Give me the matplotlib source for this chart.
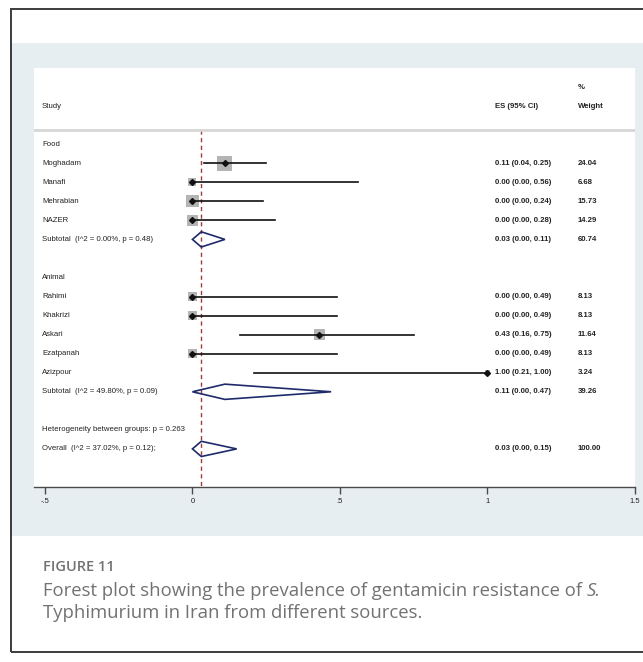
import numpy as np
import matplotlib
matplotlib.use("Agg")
from matplotlib import pyplot as plt
from matplotlib.patches import Rectangle, Polygon

# datos del forest plot
grupos = ["Food", "Animal"]
estudios = [["Moghadam", "Manafi", "Mehrabian", "NAZER"],
            ["Rahimi", "Khakrizi", "Askari", "Ezatpanah", "Azizpour"]]
es = [[0.11, 0.00, 0.00, 0.00], [0.00, 0.00, 0.43, 0.00, 1.00]]
ci_lo = [[0.04, 0.00, 0.00, 0.00], [0.00, 0.00, 0.16, 0.00, 0.21]]
ci_hi = [[0.25, 0.56, 0.24, 0.28], [0.49, 0.49, 0.75, 0.49, 1.00]]
pesos = [[24.04, 6.68, 15.73, 14.29], [8.13, 8.13, 11.64, 8.13, 3.24]]
sub_txt = ["Subtotal  (I^2 = 0.00%, p = 0.48)", "Subtotal  (I^2 = 49.80%, p = 0.09)"]
sub_es = [0.03, 0.11]
sub_lo = [0.00, 0.00]
sub_hi = [0.11, 0.47]
sub_peso = [60.74, 39.26]
het_txt = "Heterogeneity between groups: p = 0.263"
overall_txt = "Overall  (I^2 = 37.02%, p = 0.12);"
overall = (0.03, 0.00, 0.15, 100.00)
xticks = [-0.5, 0, 0.5, 1, 1.5]
xticklabels = ["-.5", "0", ".5", "1", "1.5"]

W, H = 643, 662
fig = plt.figure(figsize=(W / 100, H / 100), dpi=100)
fig.patch.set_facecolor("white")

def fr(x0, y0, x1, y1):
    # pixeles (origen arriba-izquierda) -> fraccion de figura
    return (x0 / W, 1 - y1 / H, (x1 - x0) / W, (y1 - y0) / H)

# marco y banda de fondo
l, b, w, h = fr(11, 43, 645, 536)
fig.patches.append(Rectangle((l, b), w, h, transform=fig.transFigure, facecolor="#e6eef1", edgecolor="none", zorder=-2))
l, b, w, h = fr(11, 9, 660, 652)
fig.patches.append(Rectangle((l, b), w, h, transform=fig.transFigure, facecolor="none", edgecolor="#3c3c3c", linewidth=1.4, zorder=-1))

ax = fig.add_axes(fr(34, 68, 635, 487))
ax.set_zorder(2)
ax.set_facecolor("white")
ax.set_xlim(-0.537, 1.5)
ax.set_ylim(18, -4)
for s in ["top", "right", "left"]:
    ax.spines[s].set_visible(False)
ax.spines["bottom"].set_color("#4a4a4a")
ax.spines["bottom"].set_linewidth(1.0)
ax.set_yticks([])
ax.set_xticks(xticks)
ax.set_xticklabels(xticklabels, fontsize=5.5, family="Liberation Sans", color="#222222")
ax.tick_params(axis="x", direction="out", length=5, width=1, color="#4a4a4a", pad=3)

fuente = dict(family="Liberation Sans", fontsize=5.6, va="center", color="#222222")
x_lab, x_es, x_w = -0.51, 1.025, 1.306

# cabecera
ax.text(x_lab, -2, "Study", **fuente)
ax.text(x_es, -2, "ES (95% CI)", fontweight="bold", **fuente)
ax.text(x_w, -2, "Weight", fontweight="bold", **fuente)
ax.text(x_w, -3, "%", fontweight="bold", **fuente)
ax.axhline(-0.73, color="#d6d6d6", linewidth=2)

# linea del efecto global
ax.plot([overall[0], overall[0]], [-0.73, 18], color="#a33a3a", linewidth=1, dashes=(3, 2.5), zorder=1, clip_on=False)

def diamante(y, c, lo, hi):
    pts = [(lo, y), (c, y - 0.4), (hi, y), (c, y + 0.4)]
    ax.add_patch(Polygon(pts, closed=True, facecolor="none", edgecolor="#1f2a6b", linewidth=1.2, zorder=4))

fila = 0
for g in range(len(grupos)):
    ax.text(x_lab, fila, grupos[g], **fuente)
    fila += 1
    for i in range(len(estudios[g])):
        lado = 3.06 * np.sqrt(pesos[g][i]) * 0.72
        ax.scatter(es[g][i], fila, marker="s", s=lado ** 2, color="#b4b4b4", edgecolors="none", zorder=2)
        ax.plot([ci_lo[g][i], ci_hi[g][i]], [fila, fila], color="#111111", linewidth=1.2, zorder=3)
        ax.plot(es[g][i], fila, marker="D", markersize=3, color="#111111", zorder=4)
        ax.text(x_lab, fila, estudios[g][i], **fuente)
        ax.text(x_es, fila, "%.2f (%.2f, %.2f)" % (es[g][i], ci_lo[g][i], ci_hi[g][i]), fontweight="bold", **fuente)
        ax.text(x_w, fila, "%.2f" % pesos[g][i], fontweight="bold", **fuente)
        fila += 1
    diamante(fila, sub_es[g], sub_lo[g], sub_hi[g])
    ax.text(x_lab, fila, sub_txt[g], **fuente)
    ax.text(x_es, fila, "%.2f (%.2f, %.2f)" % (sub_es[g], sub_lo[g], sub_hi[g]), fontweight="bold", **fuente)
    ax.text(x_w, fila, "%.2f" % sub_peso[g], fontweight="bold", **fuente)
    fila += 2

ax.text(x_lab, fila, het_txt, **fuente)
fila += 1
diamante(fila, overall[0], overall[1], overall[2])
ax.text(x_lab, fila, overall_txt, **fuente)
ax.text(x_es, fila, "%.2f (%.2f, %.2f)" % overall[:3], fontweight="bold", **fuente)
ax.text(x_w, fila, "%.2f" % overall[3], fontweight="bold", **fuente)

# pie de figura
gris = "#727272"
fig.text(43 / W, 1 - 567 / H, "FIGURE 11", family="Open Sans", fontweight="semibold", fontsize=10.5, color=gris, va="center")
t1 = fig.text(43 / W, 1 - 591 / H, "Forest plot showing the prevalence of gentamicin resistance of ", family="Open Sans", fontsize=13.3, color=gris, va="center")
fig.canvas.draw()
bb = t1.get_window_extent()
fig.text(bb.x1 / W, 1 - 591 / H, "S.", family="Open Sans", style="italic", fontsize=13.3, color=gris, va="center")
fig.text(43 / W, 1 - 613 / H, "Typhimurium in Iran from different sources.", family="Open Sans", fontsize=13.3, color=gris, va="center")

fig.savefig("out.png", dpi=100, facecolor="white")
